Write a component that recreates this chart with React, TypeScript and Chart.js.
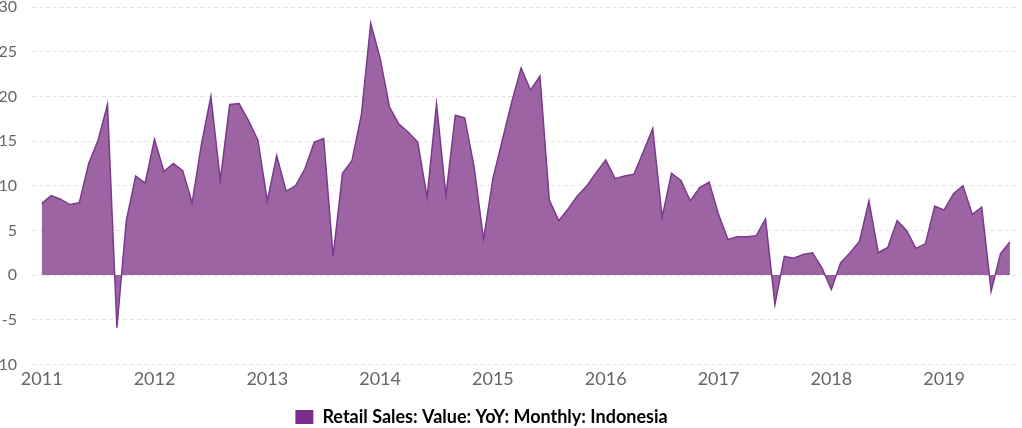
import React, { useEffect, useRef } from "react";
import { Chart, registerables } from "chart.js";

Chart.register(...registerables);

const seriesLabel = "Retail Sales: Value: YoY: Monthly: Indonesia";
const startYear = 2011;
const yearLabels = ["2011", "2012", "2013", "2014", "2015", "2016", "2017", "2018", "2019"];
const yTicks = [-10, -5, 0, 5, 10, 15, 20, 25, 30];
// Monthly values, Jan 2011 .. Aug 2019
const values = [
  8.0, 8.9, 8.5, 7.9, 8.1, 12.5, 15.1, 19.1, -5.9, 6.1, 11.1, 10.3,
  15.2, 11.6, 12.5, 11.7, 8.1, 14.7, 20.0, 10.6, 19.1, 19.2, 17.3, 15.1,
  8.3, 13.4, 9.4, 10.0, 11.9, 14.9, 15.3, 2.1, 11.4, 12.8, 17.9, 28.2,
  24.3, 18.8, 16.9, 16.0, 14.9, 8.7, 19.2, 8.9, 17.9, 17.6, 12.1, 4.0,
  10.8, 15.1, 19.4, 23.2, 20.7, 22.3, 8.4, 6.1, 7.4, 8.9, 10.0, 11.5,
  12.9, 10.8, 11.1, 11.3, 13.8, 16.4, 6.5, 11.4, 10.6, 8.3, 9.8, 10.4,
  6.8, 4.0, 4.3, 4.3, 4.4, 6.3, -3.3, 2.1, 1.9, 2.3, 2.5, 0.8,
  -1.6, 1.4, 2.5, 3.8, 8.3, 2.5, 3.1, 6.1, 5.0, 3.0, 3.5, 7.7,
  7.3, 9.1, 10.0, 6.8, 7.6, -1.8, 2.4, 3.7,
];

const CANVAS_LEFT = -57;
const CANVAS_W = 1079;
const CANVAS_H = 436;

export default function App() {
  const ref = useRef<HTMLCanvasElement | null>(null);

  useEffect(() => {
    if (!ref.current) return;
    const points = values.map((v, i) => ({ x: i, y: v }));
    const chart = new Chart(ref.current, {
      type: "line",
      data: {
        datasets: [
          {
            label: seriesLabel,
            data: points,
            fill: "origin",
            backgroundColor: "rgba(148, 88, 156, 0.93)",
            borderColor: "#7a3a8c",
            borderWidth: 1.5,
            pointRadius: 0,
            tension: 0,
          },
        ],
      },
      options: {
        animation: false,
        responsive: false,
        maintainAspectRatio: false,
        layout: { padding: { top: 7, right: 2, left: 0, bottom: 0 } },
        plugins: {
          tooltip: { enabled: false },
          legend: {
            position: "bottom",
            labels: {
              boxWidth: 18,
              boxHeight: 14,
              padding: 14,
              color: "#666666",
              font: { family: "Lato", size: 18, weight: "bold" },
              generateLabels: () => [
                {
                  text: seriesLabel,
                  fillStyle: "#7b2d8e",
                  strokeStyle: "#7b2d8e",
                  lineWidth: 0,
                  hidden: false,
                  datasetIndex: 0,
                },
              ],
            },
          },
        },
        scales: {
          x: {
            type: "linear",
            min: -1.032,
            max: 104.07,
            grid: { display: false, drawTicks: false },
            border: { display: false },
            afterBuildTicks: (scale: any) => {
              scale.ticks = yearLabels.map((_, i) => ({ value: i * 12 }));
            },
            ticks: {
              padding: 4,
              color: "#666666",
              font: { family: "Lato", size: 18 },
              maxRotation: 0,
              autoSkip: false,
              callback: (v: any) => String(startYear + Math.round(Number(v) / 12)),
            },
          },
          y: {
            min: -10,
            max: 30,
            afterBuildTicks: (scale: any) => {
              scale.ticks = yTicks.map((v) => ({ value: v }));
            },
            afterFit: (scale: any) => {
              scale.width = 89;
            },
            grid: {
              color: "#e3e3e3",
              drawTicks: true,
              tickLength: 15,
              tickColor: "rgba(0,0,0,0)",
              lineWidth: 1,
            },
            border: { display: false, dash: [4, 3] },
            ticks: {
              padding: 0,
              color: "#666666",
              font: { family: "Lato", size: 16, lineHeight: 0.9 },
            },
          },
        },
      },
    });
    return () => chart.destroy();
  }, []);

  return (
    <div
      style={{
        position: "absolute",
        left: 0,
        top: 0,
        width: 1022,
        height: 428,
        overflow: "hidden",
        background: "#ffffff",
      }}
    >
      <canvas
        ref={ref}
        width={CANVAS_W}
        height={CANVAS_H}
        style={{ position: "absolute", left: CANVAS_LEFT, top: 0, width: CANVAS_W, height: CANVAS_H }}
      />
    </div>
  );
}
